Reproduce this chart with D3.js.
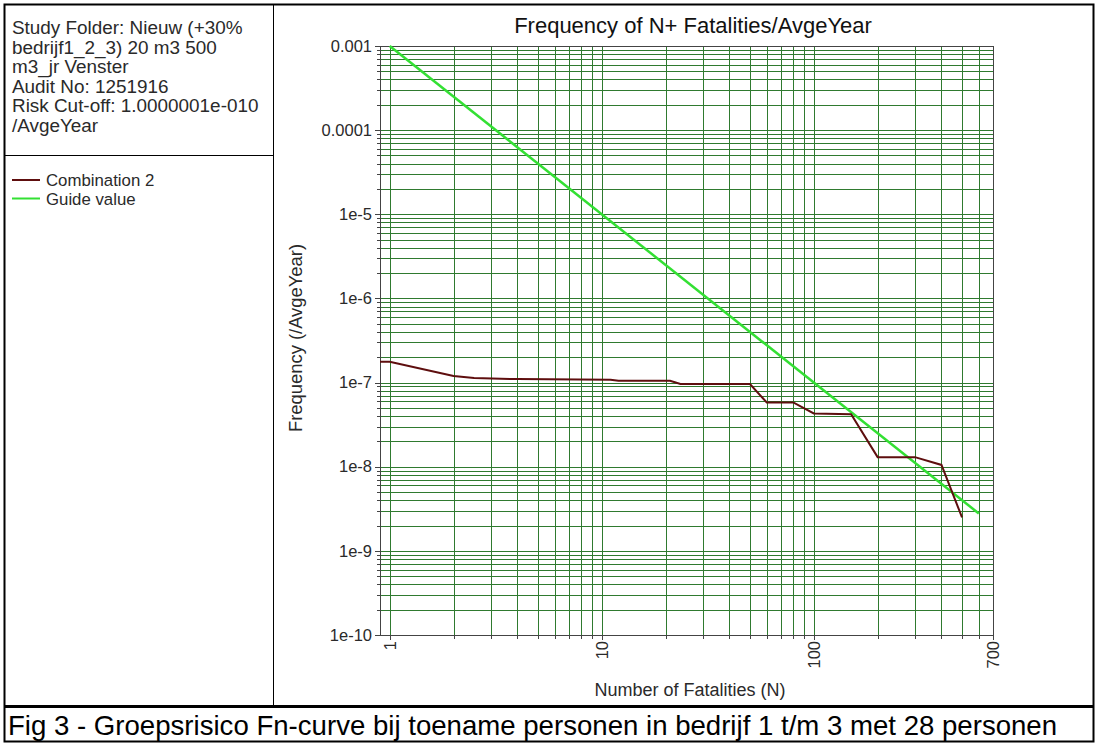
<!DOCTYPE html>
<html><head><meta charset="utf-8">
<script src="https://cdn.jsdelivr.net/npm/d3@7"></script>
<style>
body{margin:0;background:#fff}
svg{display:block}
text{font-family:"Liberation Sans",Arial,sans-serif}
</style>
</head><body>
<svg id="c" width="1101" height="743"></svg>
<script>
// ---------- data ----------
const infoLines = ["Study Folder: Nieuw (+30%", "bedrijf1_2_3)  20 m3 500", "m3_jr Venster", "Audit No: 1251916", "Risk Cut-off: 1.0000001e-010", "/AvgeYear"];
const seriesNames = ["Combination 2", "Guide value"];
const combN = [0.9, 1, 2, 2.5, 4, 11, 12, 21, 23.5, 50, 60, 80, 100, 150, 200, 300, 400, 500];
const combF = [1.77e-7, 1.77e-7, 1.2e-7, 1.13e-7, 1.1e-7, 1.08e-7, 1.05e-7, 1.05e-7, 9.6e-8, 9.6e-8, 5.8e-8, 5.8e-8, 4.3e-8, 4.2e-8, 1.3e-8, 1.3e-8, 1.05e-8, 2.5e-9];
const guideN = [1, 600];
const guideF = [1e-3, 2.78e-9];
const yTicks = [1e-3, 1e-4, 1e-5, 1e-6, 1e-7, 1e-8, 1e-9, 1e-10];
const yTickLabels = ["0.001", "0.0001", "1e-5", "1e-6", "1e-7", "1e-8", "1e-9", "1e-10"];
const xTicks = [1, 10, 100, 700];
const xTickLabels = ["1", "10", "100", "700"];
const chartTitle = "Frequency of N+ Fatalities/AvgeYear";
const xTitle = "Number of Fatalities (N)";
const yTitle = "Frequency (/AvgeYear)";
const caption = "Fig 3 - Groepsrisico Fn-curve bij toename personen in bedrijf 1 t/m 3 met 28 personen";

// ---------- layout ----------
const svg = d3.select("#c");
const L = 380, R = 993, T = 46, B = 635;
const x = d3.scaleLog().domain([0.9, 700]).range([L, R]);
const y = d3.scaleLog().domain([1e-10, 1e-3]).range([B, T]);
const gridColor = "#2f7a2f";
const txtColor = "#2a2a2a";

// grid values
const gridX = [];
[1, 10, 100].forEach(d => { for (let k = 1; k <= 9; k++) { if (k * d <= 700) gridX.push(k * d); } });
const gridY = [];
for (let e = -10; e < -3; e++) { for (let k = 1; k <= 9; k++) gridY.push(k * Math.pow(10, e)); }
gridY.push(1e-3);

// frames
svg.append("rect").attr("x", 4.5).attr("y", 4.5).attr("width", 1089).attr("height", 737)
  .attr("fill", "none").attr("stroke", "#000").attr("stroke-width", 2);
svg.append("line").attr("x1", 4).attr("x2", 1094).attr("y1", 706.5).attr("y2", 706.5)
  .attr("stroke", "#000").attr("stroke-width", 3);
svg.append("line").attr("x1", 273.5).attr("x2", 273.5).attr("y1", 5).attr("y2", 706)
  .attr("stroke", "#000").attr("stroke-width", 1);
svg.append("line").attr("x1", 5).attr("x2", 273).attr("y1", 155.5).attr("y2", 155.5)
  .attr("stroke", "#000").attr("stroke-width", 1);

// info text
svg.append("g").selectAll("text").data(infoLines).join("text")
  .attr("x", 12).attr("y", (d, i) => 34 + i * 19.6)
  .attr("font-size", 18.9).attr("fill", txtColor).text(d => d);

// legend
const legColors = ["#5e0e0e", "#33e033"];
const leg = svg.append("g").selectAll("g").data(seriesNames).join("g")
  .attr("transform", (d, i) => `translate(0,${180 + i * 18.5})`);
leg.append("line").attr("x1", 12).attr("x2", 40).attr("y1", 0).attr("y2", 0)
  .attr("stroke", (d, i) => legColors[i]).attr("stroke-width", 2);
leg.append("text").attr("x", 46).attr("y", 6).attr("font-size", 16.8).attr("fill", txtColor).text(d => d);

// grid
const gx = svg.append("g").attr("transform", `translate(0,${B})`)
  .call(d3.axisBottom(x).tickValues(gridX).tickSize(-(B - T)).tickFormat(""));
gx.select(".domain").remove();
gx.selectAll(".tick line").attr("stroke", gridColor).attr("stroke-width", 1).attr("shape-rendering", "crispEdges");
const gy = svg.append("g").attr("transform", `translate(${L},0)`)
  .call(d3.axisLeft(y).tickValues(gridY).tickSize(-(R - L)).tickFormat(""));
gy.select(".domain").remove();
gy.selectAll(".tick line").attr("stroke", gridColor).attr("stroke-width", 1).attr("shape-rendering", "crispEdges");

// small outward ticks
const tx = svg.append("g").attr("transform", `translate(0,${B})`)
  .call(d3.axisBottom(x).tickValues(gridX).tickSize(4).tickFormat(""));
tx.select(".domain").remove();
tx.selectAll(".tick line").attr("stroke", "#444").attr("shape-rendering", "crispEdges");
const ty = svg.append("g").attr("transform", `translate(${L},0)`)
  .call(d3.axisLeft(y).tickValues(gridY).tickSize(3).tickFormat(""));
ty.select(".domain").remove();
ty.selectAll(".tick line").attr("stroke", "#444").attr("shape-rendering", "crispEdges");

// labelled axes
const ax = svg.append("g").attr("transform", `translate(0,${B})`)
  .call(d3.axisBottom(x).tickValues(xTicks).tickSize(5).tickFormat((d, i) => xTickLabels[i]));
ax.select(".domain").remove();
ax.selectAll(".tick line").attr("stroke", "#444").attr("shape-rendering", "crispEdges");
ax.selectAll(".tick text").attr("transform", "rotate(-90)").attr("x", -6).attr("y", 0)
  .attr("dy", "0.35em").attr("text-anchor", "end")
  .attr("font-size", 16.5).attr("fill", txtColor).style("font-family", "Liberation Sans, Arial, sans-serif");
const ay = svg.append("g").attr("transform", `translate(${L},0)`)
  .call(d3.axisLeft(y).tickValues(yTicks).tickSize(5).tickFormat((d, i) => yTickLabels[i]));
ay.select(".domain").remove();
ay.selectAll(".tick line").attr("stroke", "#444").attr("shape-rendering", "crispEdges");
ay.selectAll(".tick text").attr("x", -8).attr("font-size", 16.5).attr("fill", txtColor)
  .style("font-family", "Liberation Sans, Arial, sans-serif");

// plot frame
svg.append("rect").attr("x", L).attr("y", T).attr("width", R - L).attr("height", B - T)
  .attr("fill", "none").attr("stroke", "#444").attr("stroke-width", 1).attr("shape-rendering", "crispEdges");

// series
const line = d3.line().x(d => x(d[0])).y(d => y(d[1]));
svg.append("path").datum(guideN.map((n, i) => [n, guideF[i]])).attr("d", line)
  .attr("fill", "none").attr("stroke", legColors[1]).attr("stroke-width", 2.5);
svg.append("path").datum(combN.map((n, i) => [n, combF[i]])).attr("d", line)
  .attr("fill", "none").attr("stroke", legColors[0]).attr("stroke-width", 2);

// titles
svg.append("text").attr("x", 693).attr("y", 33).attr("text-anchor", "middle")
  .attr("font-size", 22).attr("fill", "#111").text(chartTitle);
svg.append("text").attr("x", 690).attr("y", 696).attr("text-anchor", "middle")
  .attr("font-size", 18).attr("fill", txtColor).text(xTitle);
svg.append("text").attr("transform", "translate(302,338) rotate(-90)").attr("text-anchor", "middle")
  .attr("font-size", 18.4).attr("fill", txtColor).text(yTitle);
svg.append("text").attr("x", 8).attr("y", 735).attr("font-size", 27.6).attr("fill", "#000").text(caption);
</script>
</body></html>
